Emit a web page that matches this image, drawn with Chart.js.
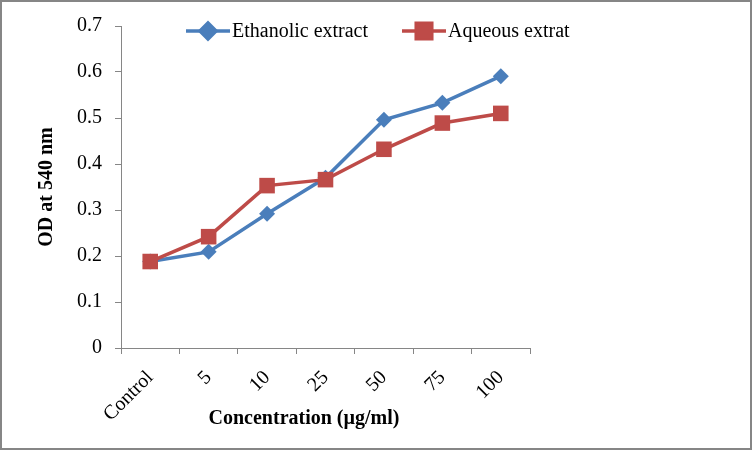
<!DOCTYPE html>
<html>
<head>
<meta charset="utf-8">
<script src="https://cdn.jsdelivr.net/npm/chart.js@4"></script>
<style>
  body { margin: 0; background: #fff; }
</style>
</head>
<body>
<canvas id="odChart" width="753" height="451"></canvas>
<script>
// chart data
const concentrations = ['Control', '5', '10', '25', '50', '75', '100'];
const ethanolicValues = [0.188, 0.209, 0.292, 0.37, 0.496, 0.533, 0.591];
const aqueousValues = [0.188, 0.242, 0.353, 0.366, 0.432, 0.489, 0.51];
const yTickLabels = ['0', '0.1', '0.2', '0.3', '0.4', '0.5', '0.6', '0.7'];

const seriesNames = ['Ethanolic extract', 'Aqueous extrat'];
const blue = '#4A7EBB';
const red = '#BE4B48';
const axisGray = '#868686';
const serif = "'Liberation Serif', 'Times New Roman', serif";

// border, axis titles and legend (legend in excel style: line with marker through it)
const extrasPlugin = {
	id: 'extras',
	beforeDraw: (chart) => {
		const ctx = chart.ctx;
		ctx.save();
		ctx.fillStyle = '#fff';
		ctx.fillRect(0, 0, chart.width, chart.height);
		ctx.strokeStyle = axisGray;
		ctx.lineWidth = 2;
		ctx.strokeRect(1, 1, 750, 448);
		ctx.restore();
	},
	afterDraw: (chart) => {
		const ctx = chart.ctx;
		const area = chart.chartArea;
		ctx.save();
		ctx.fillStyle = '#000';
		ctx.font = 'bold 20px ' + serif;
		ctx.textAlign = 'center';
		ctx.textBaseline = 'middle';
		ctx.fillText('Concentration (µg/ml)', 304, 419);

		ctx.translate(47, (area.top + area.bottom) / 2);
		ctx.rotate(-Math.PI / 2);
		ctx.fillText('OD at 540 nm', 0, 0);
		ctx.restore();

		// legend
		const items = [
			{x: 186, color: blue, style: 'rectRot', radius: 8},
			{x: 402, color: red, style: 'rect', radius: 11}
		];
		ctx.save();
		items.forEach((it, i) => {
			const y = 31;
			ctx.strokeStyle = it.color;
			ctx.lineWidth = 3.5;
			ctx.beginPath();
			ctx.moveTo(it.x, y);
			ctx.lineTo(it.x + 44, y);
			ctx.stroke();
			Chart.helpers.drawPoint(ctx, {pointStyle: it.style, radius: it.radius, borderWidth: 1}, it.x + 22, y);
			ctx.fillStyle = it.color;
			ctx.fill();
			ctx.fillStyle = '#000';
			ctx.font = '20px ' + serif;
			ctx.textAlign = 'left';
			ctx.textBaseline = 'middle';
			ctx.fillText(seriesNames[i], it.x + 46, y + 1);
		});
		ctx.restore();
	}
};

new Chart(document.getElementById('odChart'), {
	type: 'line',
	data: {
		labels: concentrations,
		datasets: [{
			label: seriesNames[0],
			data: ethanolicValues,
			borderColor: blue,
			backgroundColor: blue,
			borderWidth: 3.5,
			pointStyle: 'rectRot',
			pointRadius: 8,
			pointBorderWidth: 0,
			order: 2
		}, {
			label: seriesNames[1],
			data: aqueousValues,
			borderColor: red,
			backgroundColor: red,
			borderWidth: 3.5,
			pointStyle: 'rect',
			pointRadius: 11,
			pointBorderWidth: 0,
			order: 1
		}]
	},
	options: {
		responsive: false,
		animation: false,
		layout: {
			padding: {top: 26, right: 223, bottom: 0, left: 0}
		},
		plugins: {
			legend: {display: false},
			tooltip: {enabled: false}
		},
		scales: {
			x: {
				offset: true,
				afterFit: (scale) => { scale.height = 103; },
				border: {display: true, color: axisGray, width: 1},
				grid: {
					display: true,
					offset: true,
					drawOnChartArea: false,
					drawTicks: true,
					tickLength: 6,
					color: axisGray
				},
				ticks: {
					color: '#000',
					font: {family: serif, size: 20},
					minRotation: 45,
					maxRotation: 45,
					padding: 12
				}
			},
			y: {
				min: 0,
				max: 0.7,
				afterFit: (scale) => { scale.width = 121; },
				border: {display: true, color: axisGray, width: 1},
				grid: {
					display: true,
					drawOnChartArea: false,
					drawTicks: true,
					tickLength: 6,
					color: axisGray
				},
				ticks: {
					stepSize: 0.1,
					color: '#000',
					font: {family: serif, size: 20},
					padding: 13,
					callback: (value, index) => yTickLabels[index]
				}
			}
		}
	},
	plugins: [extrasPlugin]
});
</script>
</body>
</html>
